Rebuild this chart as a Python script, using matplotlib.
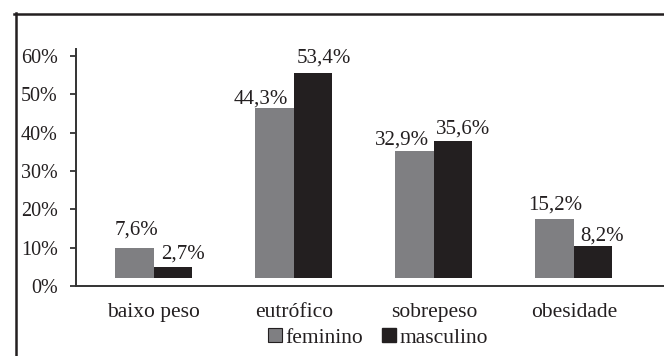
import matplotlib.pyplot as plt
from matplotlib.patches import Patch
from matplotlib.lines import Line2D
import numpy as np

categorias = ["baixo peso", "eutrófico", "sobrepeso", "obesidade"]
feminino = [7.6, 44.3, 32.9, 15.2]
masculino = [2.7, 53.4, 35.6, 8.2]
yticks = [0, 10, 20, 30, 40, 50, 60]

cor_fem = "#7f7f82"
cor_masc = "#231f20"
texto = "#231f20"

plt.rcParams["font.family"] = ["Liberation Serif", "DejaVu Serif"]

fig = plt.figure(figsize=(6.64, 3.56), dpi=100)
ax = fig.add_axes([76 / 664, 1 - 286 / 356, 1 - 76 / 664, (286 - 49) / 356])

x = np.arange(len(categorias))
w = 0.275
base = 2.2  # bars in the original float a bit above the axis
ax.bar(x - w / 2, feminino, w, bottom=base, color=cor_fem)
ax.bar(x + w / 2, masculino, w, bottom=base, color=cor_masc)

# label offsets in pixels (dx, dy) as placed in the original
off_fem = [(2, 14), (-14, 4), (-13, 7), (1, 10)]
off_masc = [(10, 9), (11, 10), (10, 7), (9, 6)]
for i in range(len(categorias)):
    for xs, v, off in ((x[i] - w / 2, feminino[i], off_fem[i]),
                       (x[i] + w / 2, masculino[i], off_masc[i])):
        ax.annotate(f"{v:.1f}%".replace(".", ","), (xs, v + base),
                    xytext=(off[0] * 0.72, off[1] * 0.72), textcoords="offset points",
                    ha="center", va="baseline", fontsize=15, color=texto)

ax.set_xlim(-0.557, 3.643)
ax.set_ylim(0, 61.8)
ax.set_yticks(yticks)
ax.set_yticklabels([f"{t}%" for t in yticks])
ax.set_xticks(x)
ax.set_xticklabels(categorias)
ax.tick_params(axis="y", length=4, width=1.3, color="#333333", pad=9,
               labelsize=14.5, labelcolor=texto)
ax.tick_params(axis="x", length=0, pad=12, labelsize=15.5, labelcolor=texto)
for s in ("top", "right"):
    ax.spines[s].set_visible(False)
for s in ("left", "bottom"):
    ax.spines[s].set_color("#333333")
    ax.spines[s].set_linewidth(1.4)

handles = [Patch(facecolor=cor_fem, edgecolor=cor_masc, linewidth=0.8),
           Patch(facecolor=cor_masc, edgecolor=cor_masc)]
fig.legend(handles, ["feminino", "masculino"], loc="center", ncol=2,
           bbox_to_anchor=(378 / 664, 1 - 338 / 356), frameon=False,
           fontsize=15.5, handlelength=0.65, handleheight=0.65, handletextpad=0.15,
           columnspacing=0.9, labelcolor=texto, borderaxespad=0, borderpad=0)

# frame remains (top and left edges)
fig.add_artist(Line2D([14 / 664, 1], [1 - 13.5 / 356] * 2, color=cor_masc, lw=1.8,
                      transform=fig.transFigure))
fig.add_artist(Line2D([15.5 / 664] * 2, [0, 1 - 13 / 356], color=cor_masc, lw=1.8,
                      transform=fig.transFigure))

fig.savefig("out.png", dpi=100)
